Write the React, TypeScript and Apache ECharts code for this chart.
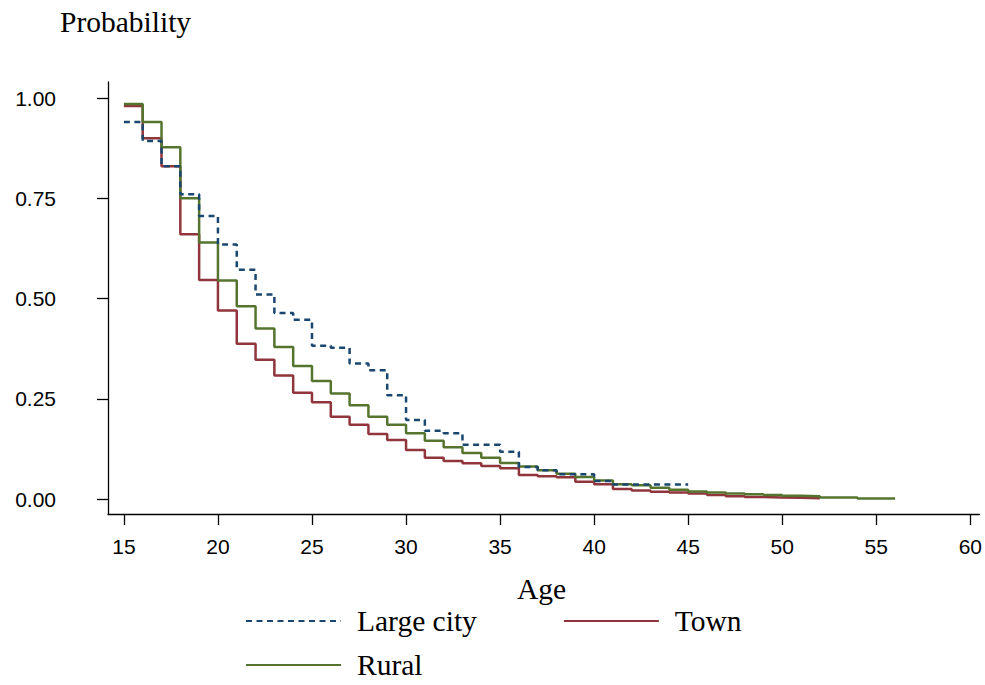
import React, { useEffect, useRef } from 'react';
import * as echarts from 'echarts';

// survival-type step curves, value shown from each age until the next one
const startAge = 15;
const largeCityValues = [0.94, 0.893, 0.83, 0.76, 0.706, 0.635, 0.572, 0.51, 0.464, 0.447, 0.382, 0.377, 0.338, 0.321, 0.259, 0.197, 0.17, 0.164, 0.135, 0.135, 0.118, 0.08, 0.072, 0.062, 0.062, 0.045, 0.036, 0.036, 0.036, 0.036];
const largeCityEnd = 45;
const townValues = [0.98, 0.9, 0.83, 0.66, 0.546, 0.47, 0.387, 0.347, 0.308, 0.265, 0.241, 0.205, 0.185, 0.162, 0.147, 0.122, 0.103, 0.095, 0.089, 0.082, 0.077, 0.06, 0.057, 0.054, 0.043, 0.037, 0.025, 0.021, 0.018, 0.016, 0.014, 0.01, 0.007, 0.005, 0.004, 0.003, 0.002];
const townEnd = 52;
const ruralValues = [0.985, 0.94, 0.877, 0.75, 0.64, 0.545, 0.481, 0.425, 0.379, 0.332, 0.294, 0.263, 0.234, 0.205, 0.185, 0.164, 0.145, 0.129, 0.115, 0.103, 0.09, 0.081, 0.072, 0.063, 0.055, 0.046, 0.037, 0.034, 0.028, 0.023, 0.019, 0.016, 0.014, 0.012, 0.01, 0.008, 0.007, 0.004, 0.004, 0.001, 0.001];
const ruralEnd = 56;

const xTicks = [15, 20, 25, 30, 35, 40, 45, 50, 55, 60];
const yTicks = [0, 0.25, 0.5, 0.75, 1];

const serif = '"Liberation Serif", "Times New Roman", serif';
const sans = '"Liberation Sans", Arial, sans-serif';

function steps(values: number[], end: number) {
    const pts = values.map((v, i) => [startAge + i, v]);
    pts.push([end, values[values.length - 1]]);
    return pts;
}

export default function App() {
    const chartRef = useRef<HTMLDivElement>(null);

    useEffect(() => {
        if (!chartRef.current) return;
        const chart = echarts.init(chartRef.current, null, { renderer: 'svg' });
        const legendText = { fontFamily: serif, fontSize: 29.5, color: '#000', padding: [8, 0, 0, 11] };
        const option = {
            animation: false,
            backgroundColor: '#fff',
            grid: { left: 108, right: 0, top: 82, bottom: 171, containLabel: false },
            xAxis: {
                type: 'value',
                min: 14.155,
                max: 60.48,
                splitLine: { show: false },
                axisLine: { show: true, onZero: false, lineStyle: { color: '#000', width: 1.3 } },
                axisTick: { show: true, length: 11, customValues: xTicks, lineStyle: { color: '#000', width: 1.3 } },
                axisLabel: { customValues: xTicks, margin: 22, fontFamily: sans, fontSize: 21, color: '#000' },
            },
            yAxis: {
                type: 'value',
                min: -0.0374,
                max: 1.04,
                splitLine: { show: false },
                axisLine: { show: true, onZero: false, lineStyle: { color: '#000', width: 1.3 } },
                axisTick: { show: true, length: 11, customValues: yTicks, lineStyle: { color: '#000', width: 1.3 } },
                axisLabel: {
                    customValues: yTicks,
                    margin: 52,
                    fontFamily: sans,
                    fontSize: 21,
                    color: '#000',
                    formatter: (v: number) => v.toFixed(2),
                },
            },
            legend: [
                {
                    data: ['Large city', 'Town'],
                    left: 245,
                    top: 606,
                    padding: 0,
                    itemWidth: 95,
                    itemHeight: 14,
                    itemGap: 86,
                    selectedMode: false,
                    itemStyle: { opacity: 0 },
                    textStyle: legendText,
                },
                {
                    data: ['Rural'],
                    left: 245,
                    top: 650,
                    padding: 0,
                    itemWidth: 95,
                    itemHeight: 14,
                    selectedMode: false,
                    itemStyle: { opacity: 0 },
                    textStyle: legendText,
                },
            ],
            graphic: [
                { type: 'text', left: 60, top: 7, style: { text: 'Probability', font: `29.5px ${serif}`, fill: '#000' } },
                { type: 'text', left: 517, top: 574, style: { text: 'Age', font: `29.5px ${serif}`, fill: '#000' } },
            ],
            series: [
                {
                    name: 'Town',
                    type: 'line',
                    step: 'end',
                    symbol: 'none',
                    data: steps(townValues, townEnd),
                    color: '#90353b',
                    lineStyle: { color: '#90353b', width: 2.5 },
                },
                {
                    name: 'Rural',
                    type: 'line',
                    step: 'end',
                    symbol: 'none',
                    data: steps(ruralValues, ruralEnd),
                    color: '#55752f',
                    lineStyle: { color: '#55752f', width: 2.5 },
                },
                {
                    name: 'Large city',
                    type: 'line',
                    step: 'end',
                    symbol: 'none',
                    data: steps(largeCityValues, largeCityEnd),
                    color: '#1a476f',
                    lineStyle: { color: '#1a476f', width: 2.5, type: [6, 4.5] },
                },
            ],
        };
        chart.setOption(option);
        return () => {
            chart.dispose();
        };
    }, []);

    return <div ref={chartRef} style={{ position: 'fixed', left: 0, top: 0, width: '985px', height: '685px' }}></div>;
}
